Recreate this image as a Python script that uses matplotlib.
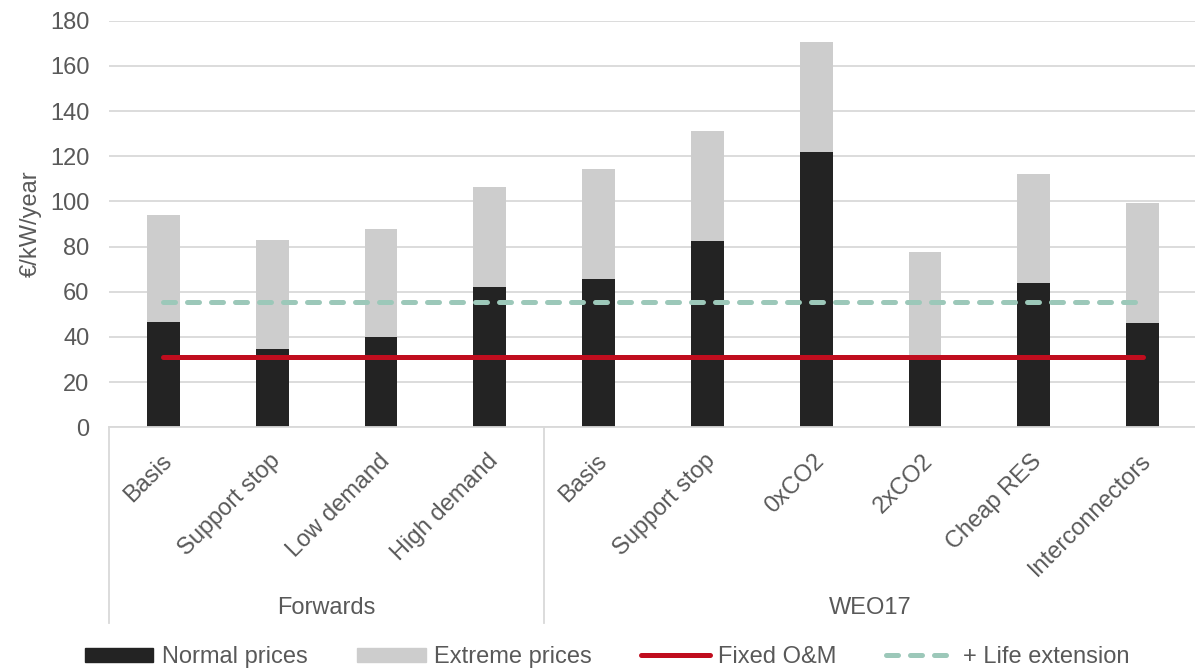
import matplotlib
matplotlib.use("Agg")
import matplotlib.pyplot as plt
import matplotlib.transforms as mtransforms
from matplotlib.patches import Patch
from matplotlib.lines import Line2D

plt.rcParams['font.family'] = ['Liberation Sans', 'DejaVu Sans']

categories = ["Basis", "Support stop", "Low demand", "High demand",
              "Basis", "Support stop", "0xCO2", "2xCO2", "Cheap RES", "Interconnectors"]
groups = ["Forwards", "WEO17"]
group_sizes = [4, 6]
normal_prices = [46.6, 34.8, 40.0, 62.2, 65.8, 82.6, 122.0, 32.2, 63.9, 46.2]
total_prices = [94.1, 82.9, 87.9, 106.2, 114.3, 131.0, 170.6, 77.6, 112.1, 99.4]
extreme_prices = [t - n for t, n in zip(total_prices, normal_prices)]
fixed_om = 31.0
life_extension = 55.5
yticks = [0, 20, 40, 60, 80, 100, 120, 140, 160, 180]

TXT = '#595959'
GRID = '#d9d9d9'
FS = 17.0

fig = plt.figure(figsize=(11.95, 6.69), dpi=100)
ax = fig.add_axes([109/1195, 1-427.3/669, (1197-109)/1195, (427.3-20.7)/669])

x = list(range(len(categories)))
w = 0.30
ax.bar(x, normal_prices, width=w, color='#232323', zorder=2)
ax.bar(x, extreme_prices, width=w, bottom=normal_prices, color='#cdcdcd', zorder=2)

ax.plot([x[0], x[-1]], [fixed_om]*2, color='#c00d1e', lw=3.6,
        solid_capstyle='round', zorder=3)
ln, = ax.plot([x[0], x[-1]], [life_extension]*2, color='#9cc8b9', lw=3.6,
              dash_capstyle='round', zorder=3)
ln.set_dashes([2.4, 2.4])

ax.set_xlim(-0.5, len(categories) - 0.5)
ax.set_ylim(0, 180)
ax.set_yticks(yticks)
ax.yaxis.grid(True, color=GRID, lw=1.3, zorder=0)
ax.set_axisbelow(True)
for s in ['left', 'right', 'top']:
    ax.spines[s].set_visible(False)
ax.spines['bottom'].set_color(GRID)
ax.spines['bottom'].set_linewidth(1.3)
ax.tick_params(axis='y', length=0, labelsize=FS, labelcolor=TXT, pad=14)
ax.tick_params(axis='x', length=0, labelsize=FS, labelcolor=TXT, pad=22)
ax.set_ylabel("€/kW/year", fontsize=FS, color=TXT, labelpad=6)

ax.set_xticks(x)
ax.set_xticklabels(categories, rotation=45, ha='right', va='center',
                   rotation_mode='anchor')
off = mtransforms.ScaledTranslation(5/100, 0, fig.dpi_scale_trans)
for lab in ax.get_xticklabels():
    lab.set_transform(lab.get_transform() + off)

# group separators and labels
trans = mtransforms.blended_transform_factory(ax.transData, ax.transAxes)
depth = -(623 - 427.3) / (427.3 - 20.7)
edges = [-0.5]
for g in group_sizes:
    edges.append(edges[-1] + g)
for e in edges:
    ax.plot([e, e], [0, depth], color=GRID, lw=1.3, transform=trans, clip_on=False)
for i, g in enumerate(groups):
    mid = (edges[i] + edges[i+1]) / 2
    ax.text(mid, -(608 - 427.3) / (427.3 - 20.7), g, transform=trans,
            ha='center', va='center', fontsize=FS, color=TXT)

handles = [Patch(color='#232323'), Patch(color='#cdcdcd'),
           Line2D([], [], color='#c00d1e', lw=3.6, solid_capstyle='round'),
           Line2D([], [], color='#9cc8b9', lw=3.6, dash_capstyle='round', dashes=[2.4, 2.4])]
labels = ["Normal prices", "Extreme prices", "Fixed O&M", "+ Life extension"]
leg = fig.legend(handles, labels, loc='center', bbox_to_anchor=(0.508, 1-657/669),
                 ncol=4, frameon=False, fontsize=FS, handlelength=2.9,
                 handleheight=0.55, handletextpad=0.35, columnspacing=2.1,
                 borderpad=0, borderaxespad=0)
for t in leg.get_texts():
    t.set_color(TXT)

fig.savefig("out.png", dpi=100)
